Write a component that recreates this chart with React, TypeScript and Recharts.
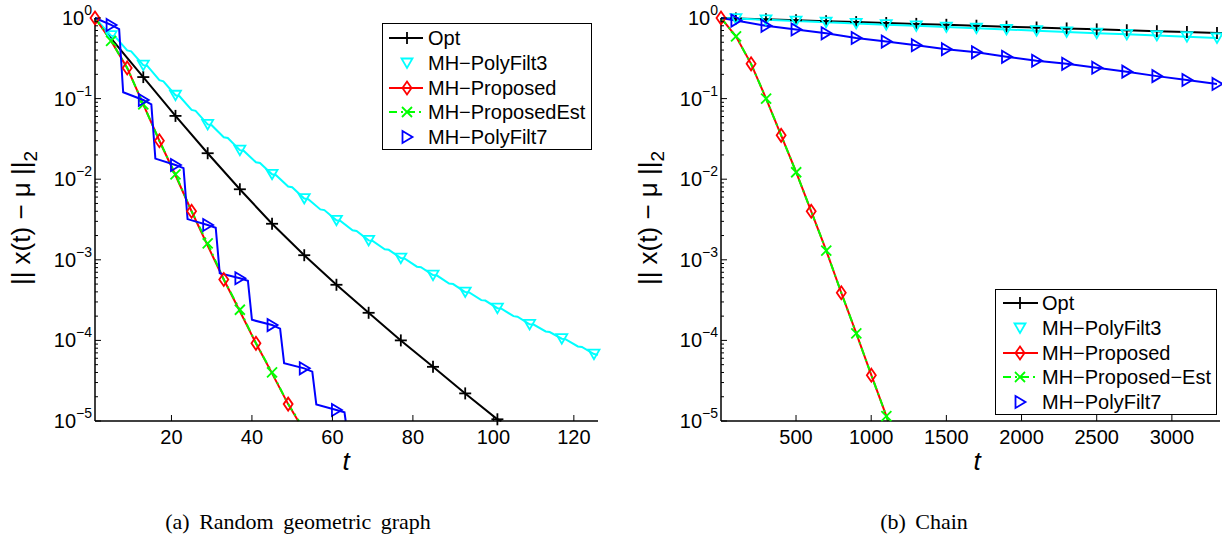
import React from 'react';
import { LineChart, Line, XAxis, YAxis, Legend } from 'recharts';

// [t, value, marker?]
type Pt = [number, number, number?];

const FONT = '"Liberation Sans", Arial, Helvetica, sans-serif';

// ---- (a) Random geometric graph ----
const rggOpt: Pt[] = [
  [1, 1.0], [5, 0.56], [9, 0.32], [13, 0.185, 1], [21, 0.061, 1], [29, 0.021, 1],
  [37, 0.0075, 1], [45, 0.0028, 1], [53, 0.00114, 1], [61, 0.00049, 1], [69, 0.00022, 1],
  [77, 0.0001, 1], [85, 0.000047, 1], [93, 0.000022, 1], [101, 0.0000105, 1], [102, 0.00001],
];
const rggPf3: Pt[] = [
  [1, 1.0], [5, 0.603, 1], [6, 0.587], [9, 0.396], [10, 0.386], [13, 0.26, 1], [14, 0.254],
  [17, 0.169], [18, 0.164], [21, 0.11, 1], [22, 0.107], [25, 0.0724], [26, 0.0706], [29, 0.0479, 1],
  [30, 0.0468], [33, 0.0331], [34, 0.0324], [37, 0.0229, 1], [38, 0.0224], [41, 0.0162], [42, 0.0159],
  [45, 0.0115, 1], [46, 0.0112], [49, 0.00813], [50, 0.00796], [53, 0.00575, 1], [54, 0.00565],
  [57, 0.00422], [58, 0.00414], [61, 0.00309, 1], [62, 0.00303], [65, 0.00232], [66, 0.00228],
  [69, 0.00174, 1], [70, 0.00171], [73, 0.00135], [74, 0.00133], [77, 0.00105, 1], [78, 0.00103],
  [81, 0.000822], [82, 0.000811], [85, 0.000646, 1], [86, 0.000637], [89, 0.000507], [90, 0.0005],
  [93, 0.000398, 1], [94, 0.000393], [97, 0.000316], [98, 0.000312], [101, 0.000251, 1],
  [102, 0.000248], [105, 0.0002], [106, 0.000197], [109, 0.000158, 1], [110, 0.000157],
  [113, 0.000129], [114, 0.000127], [117, 0.000105, 1], [118, 0.000103], [121, 0.0000841],
  [122, 0.000083], [125, 0.0000676, 1], [126, 0.0000661],
];
const rggProp: Pt[] = [
  [1, 1.0, 1], [5, 0.52], [9, 0.24, 1], [13, 0.085], [17, 0.03, 1], [21, 0.0112], [25, 0.004, 1],
  [29, 0.0015], [33, 0.00057, 1], [37, 0.00023], [41, 0.000092, 1], [45, 0.000039],
  [49, 0.0000162, 1], [51.5, 0.00001],
];
const rggEst: Pt[] = [
  [1, 1.0], [5, 0.52, 1], [9, 0.24], [13, 0.085, 1], [17, 0.03], [21, 0.0115, 1], [25, 0.004],
  [29, 0.0016, 1], [33, 0.00057], [37, 0.00024, 1], [41, 0.000092], [45, 0.00004, 1],
  [49, 0.0000162], [51.7, 0.00001],
];
const rggPf7: Pt[] = [
  [1, 1.0], [5, 0.82, 1], [7, 0.73], [8, 0.12], [13, 0.096, 1], [15, 0.085], [16, 0.018],
  [21, 0.015, 1], [23, 0.0137], [24, 0.0032], [29, 0.0027, 1], [31, 0.0025], [32, 0.00068],
  [37, 0.00059, 1], [39, 0.00055], [40, 0.00018], [45, 0.000155, 1], [47, 0.00014],
  [48, 0.000052], [53, 0.000045, 1], [55, 0.000041], [56, 0.000016], [61, 0.0000137, 1],
  [63, 0.0000128], [63.3, 0.00001],
];
const rggXTicks = [20, 40, 60, 80, 100, 120];
const rggNames = ['Opt', 'MH\u2212PolyFilt3', 'MH\u2212Proposed', 'MH\u2212ProposedEst', 'MH\u2212PolyFilt7'];

// ---- (b) Chain ----
const chainOpt: Pt[] = [
  [1, 1.0], [100, 0.987, 1], [300, 0.962, 1], [500, 0.937, 1], [700, 0.913, 1], [900, 0.89, 1],
  [1100, 0.867, 1], [1300, 0.845, 1], [1500, 0.823, 1], [1700, 0.802, 1], [1900, 0.781, 1],
  [2100, 0.762, 1], [2300, 0.742, 1], [2500, 0.723, 1], [2700, 0.705, 1], [2900, 0.686, 1],
  [3100, 0.669, 1], [3300, 0.652, 1],
];
const chainPf3: Pt[] = [
  [1, 1.0], [100, 0.983, 1], [300, 0.95, 1], [500, 0.917, 1], [700, 0.886, 1], [900, 0.856, 1],
  [1100, 0.827, 1], [1300, 0.799, 1], [1500, 0.772, 1], [1700, 0.746, 1], [1900, 0.72, 1],
  [2100, 0.696, 1], [2300, 0.672, 1], [2500, 0.649, 1], [2700, 0.627, 1], [2900, 0.606, 1],
  [3100, 0.585, 1], [3300, 0.565, 1],
];
const chainProp: Pt[] = [
  [1, 1.0, 1], [101, 0.59], [201, 0.27, 1], [301, 0.1], [401, 0.035, 1], [501, 0.0122],
  [601, 0.004, 1], [701, 0.0013], [801, 0.00039, 1], [901, 0.000122], [1001, 0.000037, 1],
  [1101, 0.0000115], [1112, 0.00001],
];
const chainEst: Pt[] = [
  [1, 1.0], [101, 0.59, 1], [201, 0.27], [301, 0.1, 1], [401, 0.035], [501, 0.0122, 1],
  [601, 0.004], [701, 0.0013, 1], [801, 0.00039], [901, 0.000122, 1], [1001, 0.000037],
  [1101, 0.0000115, 1], [1112, 0.00001],
];
const chainPf7: Pt[] = [
  [1, 1.0], [100, 0.93, 1], [300, 0.8, 1], [500, 0.72, 1], [700, 0.645, 1], [900, 0.565, 1],
  [1100, 0.51, 1], [1300, 0.46, 1], [1500, 0.41, 1], [1700, 0.375, 1], [1900, 0.33, 1],
  [2100, 0.295, 1], [2300, 0.27, 1], [2500, 0.242, 1], [2700, 0.216, 1], [2900, 0.19, 1],
  [3100, 0.17, 1], [3300, 0.152, 1],
];
const chainXTicks = [500, 1000, 1500, 2000, 2500, 3000];
const chainNames = ['Opt', 'MH\u2212PolyFilt3', 'MH\u2212Proposed', 'MH\u2212Proposed\u2212Est', 'MH\u2212PolyFilt7'];

// log axis ticks: decades + minor 2..9
const decadeExps = [-5, -4, -3, -2, -1, 0];
const minorMults = [2, 3, 4, 5, 6, 7, 8, 9];
const logTicks = decadeExps.flatMap((e) => [
  Math.pow(10, e),
  ...(e < 0 ? minorMults.map((m) => m * Math.pow(10, e)) : []),
]);

const SERIES = [
  { key: 'opt', color: '#000000', marker: 'plus', line: true },
  { key: 'pf3', color: '#00FFFF', marker: 'triDown', line: false },
  { key: 'prop', color: '#FF0000', marker: 'diamond', line: true },
  { key: 'est', color: '#00FF00', marker: 'cross', line: true, dash: '8 4 2 4' },
  { key: 'pf7', color: '#0000FF', marker: 'triRight', line: false },
];

const toRows = (pts: Pt[]) => pts.map(([t, v, m]) => ({ t, v, m: !!m }));

const Marker = ({ kind, cx, cy, color }: any) => {
  const s = { fill: 'none', stroke: color, strokeWidth: 1.8 };
  switch (kind) {
    case 'plus':
      return (
        <g {...s}>
          <line x1={cx - 6} y1={cy} x2={cx + 6} y2={cy} />
          <line x1={cx} y1={cy - 6} x2={cx} y2={cy + 6} />
        </g>
      );
    case 'triDown':
      return <polygon {...s} points={`${cx - 5.5},${cy - 4.5} ${cx + 5.5},${cy - 4.5} ${cx},${cy + 5}`} />;
    case 'diamond':
      return <polygon {...s} points={`${cx},${cy - 6.5} ${cx + 4.5},${cy} ${cx},${cy + 6.5} ${cx - 4.5},${cy}`} />;
    case 'cross':
      return (
        <g {...s}>
          <line x1={cx - 5} y1={cy - 5} x2={cx + 5} y2={cy + 5} />
          <line x1={cx - 5} y1={cy + 5} x2={cx + 5} y2={cy - 5} />
        </g>
      );
    default:
      return <polygon {...s} points={`${cx - 4.5},${cy - 6} ${cx + 5.5},${cy} ${cx - 4.5},${cy + 6}`} />;
  }
};

const makeDot = (kind: string, color: string) => (props: any) => {
  const { cx, cy, payload, index } = props;
  if (!payload || !payload.m || cx == null || cy == null) return <g key={`d${index}`} />;
  return <Marker key={`d${index}`} kind={kind} cx={cx} cy={cy} color={color} />;
};

const tickText = { fontSize: 20, fontFamily: FONT, fill: '#000' };

const YTick = (p: any) => {
  const { x, y, payload, side } = p;
  const lg = Math.log10(payload.value);
  const major = Math.abs(lg - Math.round(lg)) < 1e-6;
  const dir = side === 'left' ? 1 : -1;
  const e = Math.round(lg);
  return (
    <g>
      <line x1={x} y1={y} x2={x + dir * (major ? 6 : 3)} y2={y} stroke="#000" strokeWidth={1} />
      {major && side === 'left' && (
        <text x={x - 3} y={y + 7} textAnchor="end" style={tickText}>
          10
          <tspan dy={-10} style={{ fontSize: 14 }}>{e === 0 ? '0' : `\u2212${Math.abs(e)}`}</tspan>
        </text>
      )}
    </g>
  );
};

const XTick = (p: any) => {
  const { x, y, payload, side } = p;
  const dir = side === 'bottom' ? -1 : 1;
  return (
    <g>
      <line x1={x} y1={y} x2={x} y2={y + dir * 6} stroke="#000" strokeWidth={1} />
      {side === 'bottom' && (
        <text x={x} y={y + 23} textAnchor="middle" style={tickText}>
          {payload.value}
        </text>
      )}
    </g>
  );
};

const LegendBox = ({ names, box }: any) => (
  <div
    style={{
      width: box.w, height: box.h, border: '1.5px solid #000', boxSizing: 'border-box',
      background: '#fff', position: 'relative', fontFamily: FONT, fontSize: 20, color: '#000',
    }}
  >
    {SERIES.map((s, i) => (
      <div key={s.key} style={{ position: 'absolute', left: 0, top: box.first + i * box.step - 12, height: 24, width: '100%' }}>
        <svg width={box.textX} height={24} style={{ position: 'absolute', left: 0, top: 0 }}>
          {s.line && (
            <line x1={box.lx1} y1={12} x2={box.lx2} y2={12} stroke={s.color} strokeWidth={2} strokeDasharray={s.dash} />
          )}
          <Marker kind={s.marker} cx={box.mx} cy={12} color={s.color} />
        </svg>
        <span style={{ position: 'absolute', left: box.textX, top: 0, lineHeight: '24px', whiteSpace: 'nowrap' }}>
          {names[i]}
        </span>
      </div>
    ))}
  </div>
);

const Panel = ({ left, width, marginLeft, marginRight, xDomain, xTicks, series, names, legendPos, box, yLabelX, xLabelX, caption, captionX }: any) => {
  const axisLine = { stroke: '#000', strokeWidth: 1.5 };
  return (
    <div style={{ position: 'absolute', left, top: 0, width, height: 535 }}>
      <LineChart width={width} height={535} margin={{ top: 18, right: marginRight, bottom: 84, left: marginLeft }}>
        <XAxis xAxisId="b" type="number" dataKey="t" domain={xDomain} ticks={xTicks} interval={0}
          height={30} tickSize={0} tickMargin={0} tickLine={false} axisLine={axisLine}
          tick={(p: any) => <XTick {...p} side="bottom" />} />
        <XAxis xAxisId="top" orientation="top" type="number" dataKey="t" domain={xDomain} ticks={xTicks}
          interval={0} allowDataOverflow height={0} tickSize={0} tickMargin={0} tickLine={false} axisLine={axisLine}
          tick={(p: any) => <XTick {...p} side="top" />} />
        <YAxis yAxisId="l" scale="log" type="number" domain={[1e-5, 1]} ticks={logTicks} interval={0}
          width={60} tickSize={0} tickMargin={0} tickLine={false} axisLine={axisLine}
          tick={(p: any) => <YTick {...p} side="left" />} />
        <YAxis yAxisId="r" orientation="right" scale="log" type="number" domain={[1e-5, 1]} ticks={logTicks}
          interval={0} allowDataOverflow width={0} tickSize={0} tickMargin={0} tickLine={false} axisLine={axisLine}
          tick={(p: any) => <YTick {...p} side="right" />} />
        {SERIES.map((s, i) => (
          <Line key={s.key} data={toRows(series[i])} dataKey="v" xAxisId="b" yAxisId="l" type="linear"
            stroke={s.color} strokeWidth={2} strokeDasharray={s.dash} dot={makeDot(s.marker, s.color)}
            activeDot={false} isAnimationActive={false} name={names[i]} />
        ))}
        <Legend layout="vertical" align="center" verticalAlign="middle"
          wrapperStyle={{ left: legendPos[0], top: legendPos[1], width: box.w, height: box.h }}
          content={() => <LegendBox names={names} box={box} />} />
      </LineChart>
      <div style={{ position: 'absolute', left: yLabelX, top: 218, transform: 'translate(-50%, -50%) rotate(-90deg)', whiteSpace: 'nowrap', fontFamily: FONT, fontSize: 26, color: '#000' }}>
        || x(t) {'\u2212'} {'\u03bc'} ||<sub style={{ fontSize: 19 }}>2</sub>
      </div>
      <div style={{ position: 'absolute', left: xLabelX, top: 461, transform: 'translate(-50%, -50%)', fontFamily: FONT, fontSize: 26, fontStyle: 'italic', color: '#000' }}>
        t
      </div>
      <div style={{ position: 'absolute', left: captionX, top: 522, transform: 'translate(-50%, -50%)', whiteSpace: 'nowrap', fontFamily: '"Liberation Serif", "Times New Roman", serif', fontSize: 22, wordSpacing: 4, color: '#000' }}>
        {caption}
      </div>
    </div>
  );
};

export default function App() {
  return (
    <div style={{ position: 'absolute', left: 0, top: 0, width: 1222, height: 535, background: '#fff', overflow: 'hidden' }}>
      <Panel left={0} width={620} marginLeft={35} marginRight={22} xDomain={[1, 126]} xTicks={rggXTicks}
        series={[rggOpt, rggPf3, rggProp, rggEst, rggPf7]} names={rggNames} legendPos={[382, 23]}
        box={{ w: 210, h: 127, first: 14, step: 24.75, lx1: 6, lx2: 40, mx: 24, textX: 45 }}
        yLabelX={24} xLabelX={346} caption="(a) Random geometric graph" captionX={298} />
      <Panel left={612} width={610} marginLeft={49} marginRight={2} xDomain={[1, 3320]} xTicks={chainXTicks}
        series={[chainOpt, chainPf3, chainProp, chainEst, chainPf7]} names={chainNames} legendPos={[383, 289]}
        box={{ w: 222, h: 126, first: 13, step: 24.75, lx1: 7, lx2: 42, mx: 24, textX: 46 }}
        yLabelX={39} xLabelX={365} caption="(b) Chain" captionX={312} />
    </div>
  );
}
